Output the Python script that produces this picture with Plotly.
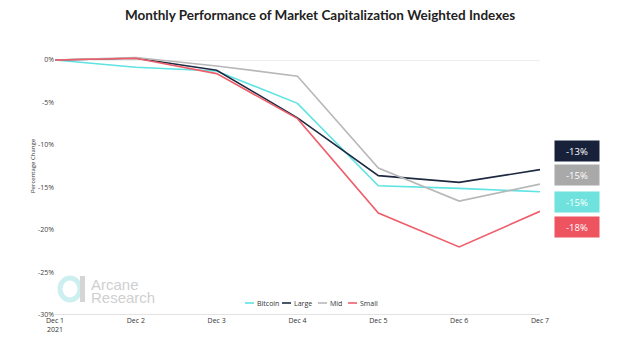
import plotly.graph_objects as go

categories = ["Dec 1<br>2021", "Dec 2", "Dec 3", "Dec 4", "Dec 5", "Dec 6", "Dec 7"]
bitcoin = [0.0, -0.85, -1.3, -5.1, -14.8, -15.1, -15.5]
large = [0.0, 0.2, -1.2, -6.8, -13.6, -14.4, -12.9]
mid = [0.0, 0.3, -0.7, -1.9, -12.7, -16.6, -14.6]
small = [0.0, 0.2, -1.6, -6.9, -18.0, -22.0, -17.8]

series_names = ["Bitcoin", "Large", "Mid", "Small"]
series_colors = ["#5EE3E3", "#1E2A42", "#B8B8B8", "#EE5E6A"]
y_ticks = [0, -5, -10, -15, -20, -25, -30]
y_tick_text = ["0%", "-5%", "-10%", "-15%", "-20%", "-25%", "-30%"]

end_labels = ["-13%", "-15%", "-15%", "-18%"]
end_colors = ["#17223A", "#A9A9A9", "#6FE2DD", "#EE5360"]

L, R, T, B = 55, 100, 55, 27
W, H = 640, 342
PW, PH = W - L - R, H - T - B


def px_x(x):
    return (x - L) / PW


def px_y(y):
    return (H - B - y) / PH


fig = go.Figure()
for name, vals, col in zip(series_names, [bitcoin, large, mid, small], series_colors):
    fig.add_trace(go.Scatter(x=list(range(len(categories))), y=vals, name=name,
                             mode="lines", line=dict(color=col, width=1.6), showlegend=False))

fig.update_layout(
    width=W, height=H,
    margin=dict(l=L, r=R, t=T, b=B),
    paper_bgcolor="white", plot_bgcolor="white",
    font=dict(family="Open Sans, Noto Sans, sans-serif", color="#444"),
    title=dict(text="<b>Monthly Performance of Market Capitalization Weighted Indexes</b>",
               x=0.5, xanchor="center", y=0.955, yanchor="middle",
               font=dict(size=13.5, color="#222", family="Lato, Open Sans, sans-serif")),
    showlegend=False,
)
fig.update_xaxes(tickmode="array", tickvals=list(range(len(categories))), ticktext=categories,
                 range=[0, 6], showgrid=False, zeroline=False, showline=False, automargin=False,
                 tickfont=dict(size=7, color="#333"), ticks="")
fig.update_yaxes(range=[-30, 0.59], tickmode="array", tickvals=y_ticks, ticktext=y_tick_text,
                 showgrid=False, zeroline=True, zerolinecolor="#eeeeee", zerolinewidth=1,
                 automargin=False, tickfont=dict(size=7, color="#444"))

# y axis title
fig.add_annotation(xref="paper", yref="paper", x=px_x(33), y=px_y(166), text="Percentage Change",
                   textangle=-90, showarrow=False, font=dict(size=6, color="#333"),
                   xanchor="center", yanchor="middle")

# bottom axis line at -30%
fig.add_shape(type="line", xref="paper", yref="y", x0=0, x1=1, y0=-30, y1=-30,
              line=dict(color="#C8C8C8", width=1.2))

# custom compact legend
leg_line_x = [245, 282, 318, 348]
for name, col, lx in zip(series_names, series_colors, leg_line_x):
    fig.add_shape(type="line", xref="paper", yref="paper", x0=px_x(lx), x1=px_x(lx + 9),
                  y0=px_y(303), y1=px_y(303), line=dict(color=col, width=1.6))
    fig.add_annotation(xref="paper", yref="paper", x=px_x(lx + 10), y=px_y(303), text=name,
                       showarrow=False, xanchor="left", yanchor="middle",
                       font=dict(size=7, color="#333"))

# end value boxes
box_y = [-10.7, -13.55, -16.7, -19.65]
for lab, col, yy in zip(end_labels, end_colors, box_y):
    fig.add_annotation(xref="paper", yref="y", x=px_x(577), y=yy, text=lab, showarrow=False,
                       bgcolor=col, width=42, height=18, font=dict(size=9.5, color="white"),
                       xanchor="center", yanchor="middle")

# watermark logo
fig.add_shape(type="circle", xref="paper", yref="paper",
              x0=px_x(60), x1=px_x(80), y0=px_y(300), y1=px_y(278),
              line=dict(color="#CDEFF0", width=5))
fig.add_shape(type="rect", xref="paper", yref="paper",
              x0=px_x(80), x1=px_x(85), y0=px_y(302), y1=px_y(276),
              line=dict(width=0), fillcolor="#D5D5D5")
fig.add_annotation(xref="paper", yref="paper", x=px_x(89), y=px_y(284),
                   text="Arcane", showarrow=False, xanchor="left", yanchor="middle",
                   font=dict(size=15, color="#CFCFCF", family="Liberation Sans, Arial"))
fig.add_annotation(xref="paper", yref="paper", x=px_x(89), y=px_y(297),
                   text="Research", showarrow=False, xanchor="left", yanchor="middle",
                   font=dict(size=15, color="#CFCFCF", family="Liberation Sans, Arial"))

fig.write_html("out.html")
